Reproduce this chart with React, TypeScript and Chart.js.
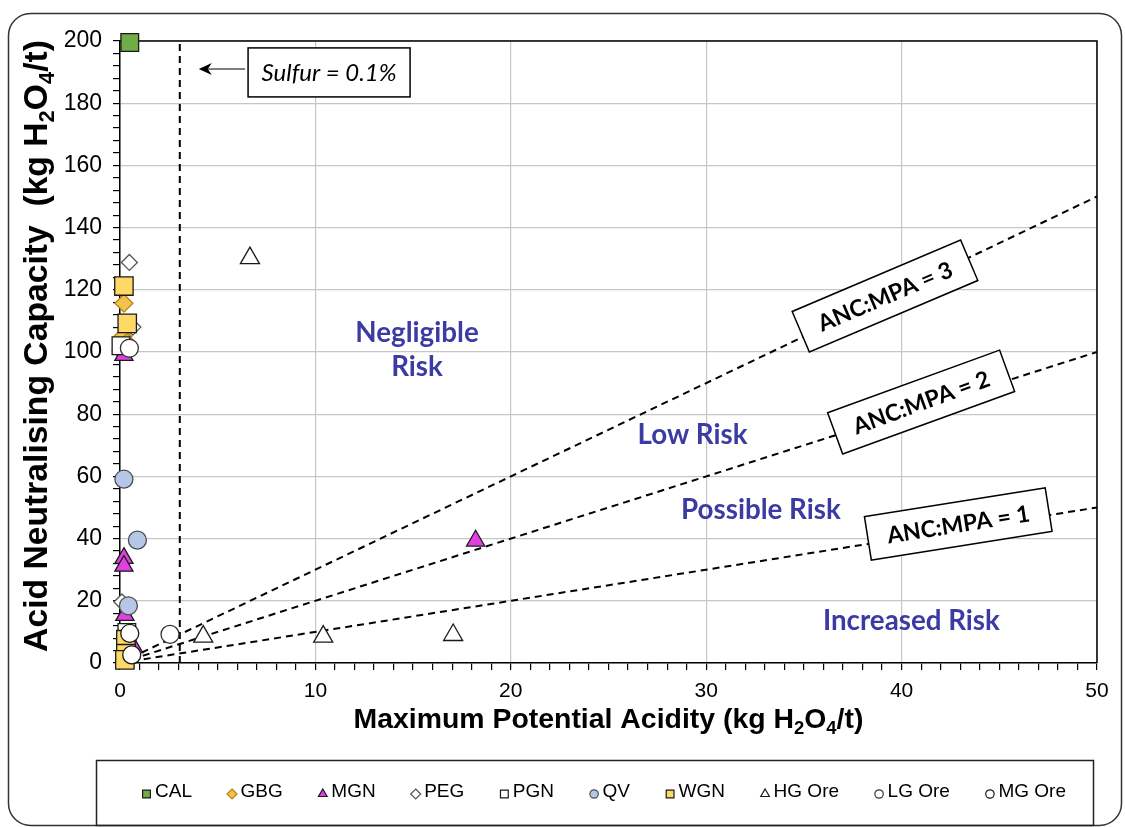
import React, { useEffect, useRef } from 'react';
import { Chart, registerables } from 'chart.js';

Chart.register(...registerables);

// ---------------- data ----------------
const seriesNames = ['CAL', 'GBG', 'MGN', 'PEG', 'PGN', 'QV', 'WGN', 'HG Ore', 'LG Ore', 'MG Ore'];

const calPoints = [{ x: 0.5, y: 199.5 }];
const gbgPoints = [{ x: 0.2, y: 115.7 }, { x: 0.15, y: 105 }, { x: 0.35, y: 103 }, { x: 0.05, y: 100.5 }];
const mgnPoints = [{ x: 0.2, y: 99 }, { x: 0.2, y: 33.7 }, { x: 0.2, y: 31.2 }, { x: 0.25, y: 15.4 }, { x: 18.2, y: 39.3 }, { x: 0.7, y: 5 }];
const pegPoints = [{ x: 0.48, y: 128.8 }, { x: 0.66, y: 108 }, { x: 0.1, y: 19.6 }];
const pgnPoints = [{ x: 0.05, y: 102 }, { x: 0.35, y: 9.8 }, { x: 0.3, y: 4 }];
const qvPoints = [{ x: 0.2, y: 59.1 }, { x: 0.89, y: 39.5 }, { x: 0.43, y: 18.4 }];
const wgnPoints = [{ x: 0.2, y: 121.2 }, { x: 0.37, y: 109.2 }, { x: 0.3, y: 7.5 }, { x: 0.3, y: 3 }, { x: 0.25, y: 1 }];
const hgPoints = [{ x: 6.65, y: 130.2 }, { x: 4.26, y: 8.5 }, { x: 10.4, y: 8.5 }, { x: 17.05, y: 9.0 }];
const lgPoints = [{ x: 2.56, y: 9.2 }, { x: 0.48, y: 101.2 }];
const mgPoints = [{ x: 0.5, y: 9.5 }, { x: 0.6, y: 2.6 }];

const seriesData = [calPoints, gbgPoints, mgnPoints, pegPoints, pgnPoints, qvPoints, wgnPoints, hgPoints, lgPoints, mgPoints];

const ancMpaRatios = [1, 2, 3];
const sulfurMpa = 3.06; // 0.1% S
const xMajorTicks = [0, 10, 20, 30, 40, 50];
const yMajorTicks = [0, 20, 40, 60, 80, 100, 120, 140, 160, 180, 200];

// ---------------- styles ----------------
const seriesStyles = [
  { style: 'rect', r: 12.5, fill: '#70AD47', stroke: '#1a1a1a' },
  { style: 'rectRot', r: 9, fill: '#F2C14E', stroke: '#B8860B' },
  { style: 'triangle', r: 10.5, fill: '#E040E0', stroke: '#1a1a1a' },
  { style: 'rectRot', r: 8, fill: '#FFFFFF', stroke: '#555555' },
  { style: 'rect', r: 12.5, fill: '#FFFFFF', stroke: '#1a1a1a' },
  { style: 'circle', r: 9, fill: '#B4C7E7', stroke: '#4d4d4d' },
  { style: 'rect', r: 13, fill: '#FFD966', stroke: '#1a1a1a' },
  { style: 'triangle', r: 11, fill: '#FFFFFF', stroke: '#1a1a1a' },
  { style: 'circle', r: 9, fill: '#FFFFFF', stroke: '#333333' },
  { style: 'circle', r: 9, fill: '#FFFFFF', stroke: '#1a1a1a' },
];

const riskLabels = [
  { lines: ['Negligible', 'Risk'], x: 15.2, y: 100.6 },
  { lines: ['Low Risk'], x: 29.3, y: 73.3 },
  { lines: ['Possible Risk'], x: 32.8, y: 49.2 },
  { lines: ['Increased Risk'], x: 40.5, y: 13.5 },
];

const ratioBoxes = [
  { text: 'ANC:MPA = 3', x: 39.15, y: 118, angle: 23 },
  { text: 'ANC:MPA = 2', x: 41.0, y: 83.9, angle: 20 },
  { text: 'ANC:MPA = 1', x: 42.9, y: 44.7, angle: 9 },
];

const W = 1125;
const H = 827;
const SANS = '"Liberation Sans", Arial, sans-serif';
const CAL_LIKE = 'Lato, "Open Sans", sans-serif';

type Part = { t: string; sub?: boolean };
const yTitleParts: Part[] = [
  { t: 'Acid Neutralising Capacity  (kg H' }, { t: '2', sub: true }, { t: 'O' }, { t: '4', sub: true }, { t: '/t)' },
];
const xTitleParts: Part[] = [
  { t: 'Maximum Potential Acidity (kg H' }, { t: '2', sub: true }, { t: 'O' }, { t: '4', sub: true }, { t: '/t)' },
];

function measureParts(ctx: CanvasRenderingContext2D, parts: Part[], size: number, weight: string, family: string) {
  let w = 0;
  for (const p of parts) {
    ctx.font = `${weight} ${p.sub ? size * 0.65 : size}px ${family}`;
    w += ctx.measureText(p.t).width;
  }
  return w;
}

function drawParts(ctx: CanvasRenderingContext2D, parts: Part[], cx: number, cy: number, size: number, weight: string, family: string) {
  const total = measureParts(ctx, parts, size, weight, family);
  let x = cx - total / 2;
  const base = cy + size * 0.36;
  ctx.textAlign = 'left';
  ctx.textBaseline = 'alphabetic';
  for (const p of parts) {
    const s = p.sub ? size * 0.65 : size;
    ctx.font = `${weight} ${s}px ${family}`;
    ctx.fillText(p.t, x, p.sub ? base + size * 0.2 : base);
    x += ctx.measureText(p.t).width;
  }
}

function fitSize(ctx: CanvasRenderingContext2D, text: string, weight: string, family: string, target: number) {
  ctx.font = `${weight} 100px ${family}`;
  return (100 * target) / ctx.measureText(text).width;
}

function drawMarker(ctx: CanvasRenderingContext2D, style: string, x: number, y: number, r: number) {
  ctx.beginPath();
  if (style === 'rect') {
    const s = r * Math.SQRT1_2;
    ctx.rect(x - s, y - s, 2 * s, 2 * s);
  } else if (style === 'rectRot') {
    ctx.moveTo(x, y - r); ctx.lineTo(x + r, y); ctx.lineTo(x, y + r); ctx.lineTo(x - r, y); ctx.closePath();
  } else if (style === 'triangle') {
    ctx.moveTo(x, y - r);
    ctx.lineTo(x + r * Math.sin(Math.PI / 3), y + r * 0.5);
    ctx.lineTo(x - r * Math.sin(Math.PI / 3), y + r * 0.5);
    ctx.closePath();
  } else {
    ctx.arc(x, y, r, 0, Math.PI * 2);
  }
  ctx.fill();
  ctx.stroke();
}

const decorPlugin = {
  id: 'decor',
  beforeDraw(chart: any) {
    const ctx: CanvasRenderingContext2D = chart.ctx;
    ctx.save();
    ctx.fillStyle = '#fff';
    ctx.fillRect(0, 0, W, H);
    // outer rounded border
    ctx.strokeStyle = '#333';
    ctx.lineWidth = 1.5;
    ctx.beginPath();
    (ctx as any).roundRect(8.5, 13.5, 1113, 812, 22);
    ctx.stroke();
    ctx.restore();
  },
  beforeDatasetsDraw(chart: any) {
    const ctx: CanvasRenderingContext2D = chart.ctx;
    const a = chart.chartArea;
    ctx.save();
    ctx.strokeStyle = '#000';
    ctx.lineWidth = 1.5;
    ctx.beginPath();
    ctx.moveTo(a.left, a.top);
    ctx.lineTo(a.right, a.top);
    ctx.lineTo(a.right, a.bottom);
    ctx.stroke();
    ctx.restore();
  },
  afterDraw(chart: any) {
    const ctx: CanvasRenderingContext2D = chart.ctx;
    const xs = chart.scales.x;
    const ys = chart.scales.y;
    const a = chart.chartArea;
    ctx.save();

    // ratio boxes
    const boxFont = fitSize(ctx, 'ANC:MPA = 3', 'bold', CAL_LIKE, 144);
    for (const b of ratioBoxes) {
      const cx = xs.getPixelForValue(b.x);
      const cy = ys.getPixelForValue(b.y);
      ctx.save();
      ctx.translate(cx, cy);
      ctx.rotate((-b.angle * Math.PI) / 180);
      ctx.fillStyle = '#fff';
      ctx.fillRect(-91.5, -22, 183, 44);
      ctx.strokeStyle = '#000';
      ctx.lineWidth = 1.5;
      ctx.strokeRect(-91.5, -22, 183, 44);
      ctx.fillStyle = '#000';
      ctx.font = `bold ${boxFont}px ${CAL_LIKE}`;
      ctx.textAlign = 'center';
      ctx.textBaseline = 'middle';
      ctx.fillText(b.text, 0, 1);
      ctx.restore();
    }

    // risk labels
    const riskSize = fitSize(ctx, 'Increased Risk', 'bold', CAL_LIKE, 177);
    ctx.fillStyle = '#3B3BA3';
    ctx.font = `bold ${riskSize}px ${CAL_LIKE}`;
    ctx.textAlign = 'center';
    ctx.textBaseline = 'middle';
    for (const r of riskLabels) {
      const cx = xs.getPixelForValue(r.x);
      const cy = ys.getPixelForValue(r.y);
      const lh = riskSize * 1.2;
      r.lines.forEach((ln, i) => {
        ctx.fillText(ln, cx, cy + (i - (r.lines.length - 1) / 2) * lh);
      });
    }

    // sulfur box and arrow
    const sbx = xs.getPixelForValue(10.7);
    const sby = ys.getPixelForValue(189.9);
    ctx.fillStyle = '#fff';
    ctx.fillRect(sbx - 81, sby - 24.5, 162, 49);
    ctx.strokeStyle = '#000';
    ctx.lineWidth = 1.5;
    ctx.strokeRect(sbx - 81, sby - 24.5, 162, 49);
    const sSize = fitSize(ctx, 'Sulfur = 0.1%', 'italic', CAL_LIKE, 135);
    ctx.fillStyle = '#000';
    ctx.font = `italic ${sSize}px ${CAL_LIKE}`;
    ctx.fillText('Sulfur = 0.1%', sbx, sby + 1);
    const tipX = xs.getPixelForValue(sulfurMpa) + 19;
    const ay = sby - 3.5;
    ctx.strokeStyle = '#7f7f7f';
    ctx.lineWidth = 2;
    ctx.beginPath();
    ctx.moveTo(sbx - 84, ay);
    ctx.lineTo(tipX + 8, ay);
    ctx.stroke();
    ctx.fillStyle = '#000';
    ctx.beginPath();
    ctx.moveTo(tipX, ay);
    ctx.lineTo(tipX + 13, ay - 6);
    ctx.lineTo(tipX + 9, ay);
    ctx.lineTo(tipX + 13, ay + 6);
    ctx.closePath();
    ctx.fill();

    // axis titles
    ctx.fillStyle = '#000';
    const xtW = 510;
    const xtSize = (100 * xtW) / measureParts(ctx, xTitleParts, 100, 'bold', SANS);
    drawParts(ctx, xTitleParts, (a.left + a.right) / 2, 718, xtSize, 'bold', SANS);
    const ytW = 612;
    const ytSize = (100 * ytW) / measureParts(ctx, yTitleParts, 100, 'bold', SANS);
    ctx.save();
    ctx.translate(35, 346);
    ctx.rotate(-Math.PI / 2);
    drawParts(ctx, yTitleParts, 0, 0, ytSize, 'bold', SANS);
    ctx.restore();

    // legend
    const lx0 = 96, ly0 = 760, lw = 997, lh = 65;
    ctx.strokeStyle = '#222';
    ctx.lineWidth = 1.5;
    ctx.strokeRect(lx0 + 0.5, ly0 + 0.5, lw, lh);
    const legFont = `19px ${SANS}`;
    ctx.font = legFont;
    const mW = 9, gapMT = 4;
    const widths = seriesNames.map((n) => mW + gapMT + ctx.measureText(n).width);
    const startX = 142, endX = 1066;
    const gap = (endX - startX - widths.reduce((s, v) => s + v, 0)) / (seriesNames.length - 1);
    let cx = startX;
    const cy = 792;
    seriesNames.forEach((n, i) => {
      const st = seriesStyles[i];
      ctx.fillStyle = st.fill;
      ctx.strokeStyle = st.stroke;
      ctx.lineWidth = 1.2;
      const mr = st.style === 'rect' ? 5.5 : st.style === 'circle' ? 4.2 : 5;
      drawMarker(ctx, st.style, cx + mW / 2, cy + 2, mr);
      ctx.fillStyle = '#000';
      ctx.font = legFont;
      ctx.textAlign = 'left';
      ctx.textBaseline = 'middle';
      ctx.fillText(n, cx + mW + gapMT, cy);
      cx += widths[i] + gap;
    });

    ctx.restore();
  },
};

export default function App() {
  const ref = useRef<HTMLCanvasElement>(null);
  useEffect(() => {
    document.body.style.margin = '0';
    const canvas = ref.current!;
    const lineDatasets = ancMpaRatios.map((k) => ({
      label: `ANC:MPA = ${k}`,
      data: [{ x: 0, y: 0 }, { x: 50, y: 50 * k }],
      showLine: true,
      borderColor: '#000',
      borderWidth: 2,
      borderDash: [7, 5],
      pointRadius: 0,
      order: 50,
    }));
    const sulfurDataset = {
      label: 'Sulfur = 0.1%',
      data: [{ x: sulfurMpa, y: 0 }, { x: sulfurMpa, y: 200 }],
      showLine: true,
      borderColor: '#000',
      borderWidth: 2,
      borderDash: [7, 5],
      pointRadius: 0,
      order: 51,
    };
    const scatterDatasets = seriesNames.map((name, i) => ({
      label: name,
      data: seriesData[i],
      pointStyle: seriesStyles[i].style,
      pointRadius: seriesStyles[i].r,
      pointHoverRadius: seriesStyles[i].r,
      backgroundColor: seriesStyles[i].fill,
      borderColor: seriesStyles[i].stroke,
      pointBorderWidth: 1.3,
      showLine: false,
      clip: false,
      order: 20 - i,
    }));

    const chart = new Chart(canvas, {
      type: 'scatter',
      data: { datasets: [...lineDatasets, sulfurDataset, ...scatterDatasets] as any },
      options: {
        responsive: false,
        animation: false,
        events: [],
        layout: { padding: { top: 41, right: 28, left: 0, bottom: 0 } },
        plugins: { legend: { display: false }, tooltip: { enabled: false } },
        scales: {
          x: {
            type: 'linear',
            min: 0,
            max: 50,
            afterFit: (s: any) => { s.height = 164; },
            ticks: {
              stepSize: 1,
              autoSkip: false,
              maxRotation: 0,
              padding: 9,
              color: '#000',
              font: { family: SANS, size: 21 },
              callback: (v: any) => (xMajorTicks.includes(Math.round(v)) && Math.abs(v - Math.round(v)) < 1e-6 ? String(Math.round(v)) : ''),
            },
            grid: {
              color: (c: any) => (xMajorTicks.includes(Math.round(c.tick?.value ?? -1)) ? '#c6c6c6' : 'rgba(0,0,0,0)'),
              tickColor: '#000',
              tickLength: 7,
              lineWidth: 1.2,
            },
            border: { color: '#000', width: 1.5 },
          },
          y: {
            type: 'linear',
            min: 0,
            max: 200,
            afterFit: (s: any) => { s.width = 120; },
            ticks: {
              stepSize: 4,
              autoSkip: false,
              padding: 11,
              color: '#000',
              font: { family: SANS, size: 23 },
              callback: (v: any) => (yMajorTicks.includes(Math.round(v)) ? String(Math.round(v)) : ''),
            },
            grid: {
              color: (c: any) => (yMajorTicks.includes(Math.round(c.tick?.value ?? -1)) ? '#c6c6c6' : 'rgba(0,0,0,0)'),
              tickColor: '#000',
              tickLength: 7,
              lineWidth: 1.2,
            },
            border: { color: '#000', width: 1.5 },
          },
        },
      },
      plugins: [decorPlugin],
    });
    return () => chart.destroy();
  }, []);
  return (
    <div style={{ width: W, height: H, overflow: 'hidden' }}>
      <canvas ref={ref} width={W} height={H} style={{ display: 'block' }} />
    </div>
  );
}
